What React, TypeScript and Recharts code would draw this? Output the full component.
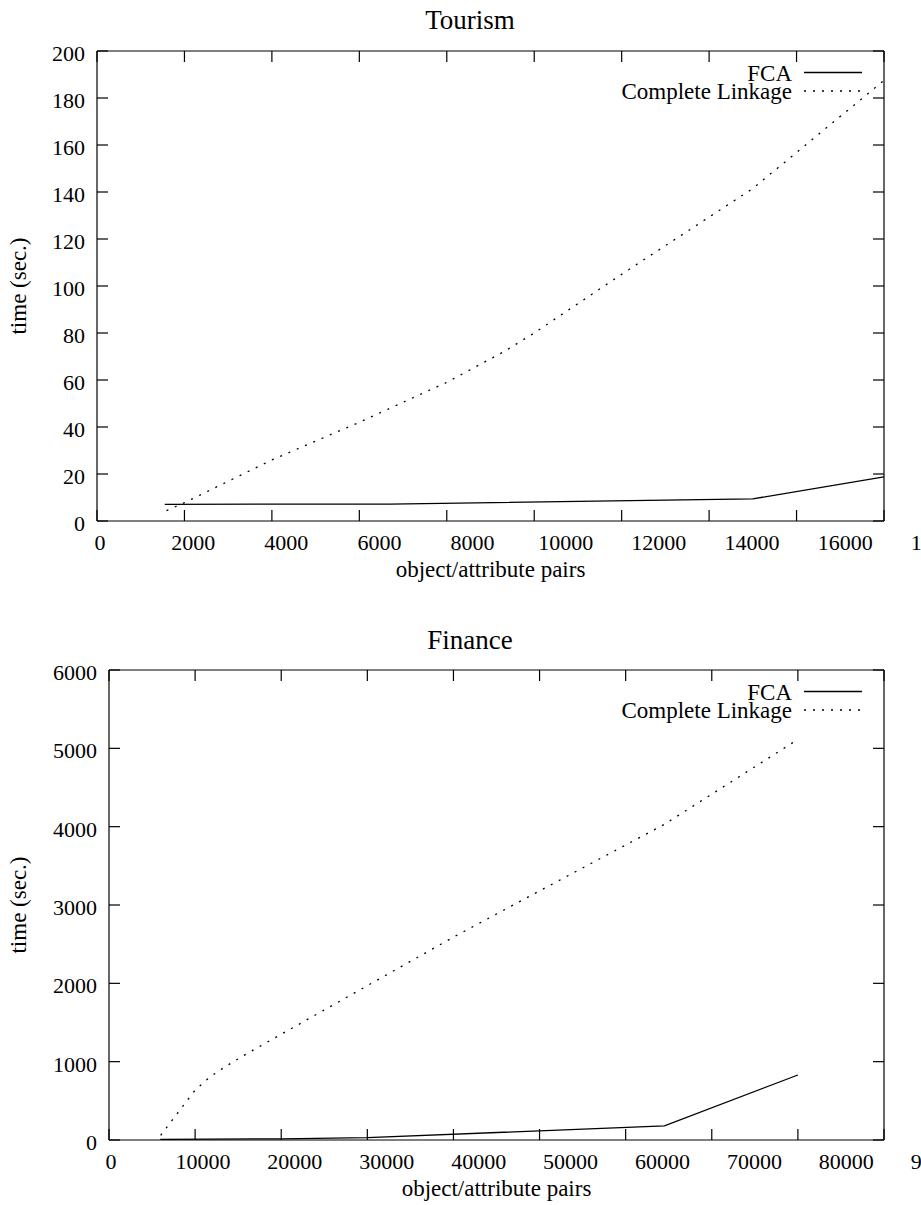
import React from 'react';
import { LineChart, Line, XAxis, YAxis } from 'recharts';

const FONT = '"Liberation Serif", "Times New Roman", Times, serif';

// ---- Data ----
const seriesNames = ['FCA', 'Complete Linkage'];
const xAxisTitle = 'object/attribute pairs';
const yAxisTitle = 'time (sec.)';

const tourismTitle = 'Tourism';
const tourismXTicks = [0, 2000, 4000, 6000, 8000, 10000, 12000, 14000, 16000, 18000];
const tourismYTicks = [0, 20, 40, 60, 80, 100, 120, 140, 160, 180, 200];
const tourismFCA = [
  { x: 1550, y: 7.1 },
  { x: 6700, y: 7.2 },
  { x: 15000, y: 9.4 },
  { x: 18000, y: 18.8 },
];
const tourismCL = [
  { x: 1590, y: 4.4 },
  { x: 2000, y: 7.8 },
  { x: 4000, y: 26 },
  { x: 6000, y: 42 },
  { x: 8000, y: 59 },
  { x: 9300, y: 72 },
  { x: 10000, y: 80 },
  { x: 12000, y: 105 },
  { x: 15000, y: 141.5 },
  { x: 18000, y: 187.5 },
];

const financeTitle = 'Finance';
const financeXTicks = [0, 10000, 20000, 30000, 40000, 50000, 60000, 70000, 80000, 90000];
const financeYTicks = [0, 1000, 2000, 3000, 4000, 5000, 6000];
const financeFCA = [
  { x: 5950, y: 8 },
  { x: 20000, y: 15 },
  { x: 30000, y: 30 },
  { x: 64500, y: 180 },
  { x: 80000, y: 830 },
];
const financeCL = [
  { x: 6000, y: 60 },
  { x: 10000, y: 637 },
  { x: 11600, y: 794 },
  { x: 13400, y: 930 },
  { x: 16100, y: 1108 },
  { x: 20000, y: 1350 },
  { x: 30000, y: 1970 },
  { x: 40000, y: 2590 },
  { x: 50000, y: 3180 },
  { x: 64500, y: 4030 },
  { x: 80000, y: 5114 },
];

// ---- Styling helpers ----
const TICK_LEN = 11;
const TICK_FONT = 22;
const LABEL_FONT = 23;
const AXIS_STROKE = { stroke: '#000', strokeWidth: 1.2 };
const DOTTED = '2 7';

function makeBottomTick(step: number, off0: number, offStep: number) {
  return (props: any) => {
    const { x, y, payload } = props;
    const k = payload.value / step;
    return (
      <g>
        <line x1={x} x2={x} y1={y} y2={y - TICK_LEN} stroke="#000" strokeWidth={1.2} />
        <text x={x + off0 + offStep * k} y={y + 29} textAnchor="middle" fontSize={TICK_FONT} fontFamily={FONT} fill="#000">
          {payload.value}
        </text>
      </g>
    );
  };
}
const TopTick = (props: any) => {
  const { x, y } = props;
  return <line x1={x} x2={x} y1={y} y2={y + TICK_LEN} stroke="#000" strokeWidth={1.2} />;
};
const LeftTick = (props: any) => {
  const { x, y, payload } = props;
  return (
    <g>
      <line x1={x} x2={x + TICK_LEN} y1={y} y2={y} stroke="#000" strokeWidth={1.2} />
      <text x={x - 12} y={y + 10} textAnchor="end" fontSize={TICK_FONT} fontFamily={FONT} fill="#000">
        {payload.value}
      </text>
    </g>
  );
};
const RightTick = (props: any) => {
  const { x, y } = props;
  return <line x1={x} x2={x - TICK_LEN} y1={y} y2={y} stroke="#000" strokeWidth={1.2} />;
};

type Box = { top: number; right: number; bottom: number; left: number };
type PanelProps = {
  height: number;
  plot: Box; // plot box edges (pixels from the chart's edges)
  title: string;
  titleY: number;
  xTicks: number[];
  yTicks: number[];
  fca: { x: number; y: number }[];
  cl: { x: number; y: number }[];
  tickStep: number;
  labelOff0: number;
  labelOffStep: number;
};

const WIDTH = 921;
const AX = 1; // axis band size (needs to be > 0 for recharts to draw it)

function Panel(p: PanelProps) {
  const { height, plot } = p;
  const margin = {
    top: plot.top - AX,
    right: plot.right - AX,
    bottom: plot.bottom - AX,
    left: plot.left - AX,
  };
  const plotTop = plot.top;
  const plotBottom = height - plot.bottom;
  const plotRight = WIDTH - plot.right;
  const plotLeft = plot.left;
  const xDomain = [p.xTicks[0], p.xTicks[p.xTicks.length - 1]];
  const yDomain = [p.yTicks[0], p.yTicks[p.yTicks.length - 1]];
  const BottomTick = makeBottomTick(p.tickStep, p.labelOff0, p.labelOffStep);
  const legendTextX = plotRight - 92;
  const legendLineX1 = plotRight - 80;
  const legendLineX2 = plotRight - 22;
  const row1 = plotTop + 21.5;
  const row2 = plotTop + 40;
  const common = {
    type: 'number' as const,
    interval: 0 as const,
    allowDataOverflow: true,
    tickSize: 0,
    tickMargin: 0,
    tickLine: false,
    axisLine: AXIS_STROKE,
  };
  return (
    <LineChart width={WIDTH} height={height} margin={margin} style={{ fontFamily: FONT }}>
      <XAxis {...common} xAxisId="b" dataKey="x" orientation="bottom" domain={xDomain} ticks={p.xTicks} height={AX} tick={BottomTick} />
      <XAxis {...common} xAxisId="t" dataKey="x" orientation="top" domain={xDomain} ticks={p.xTicks} height={AX} tick={TopTick} />
      <YAxis {...common} yAxisId="l" orientation="left" domain={yDomain} ticks={p.yTicks} width={AX} tick={LeftTick} />
      <YAxis {...common} yAxisId="r" orientation="right" domain={yDomain} ticks={p.yTicks} width={AX} tick={RightTick} />
      <Line
        xAxisId="b"
        yAxisId="l"
        data={p.fca}
        dataKey="y"
        name={seriesNames[0]}
        type="linear"
        stroke="#000"
        strokeWidth={1.3}
        dot={false}
        activeDot={false}
        isAnimationActive={false}
      />
      <Line
        xAxisId="b"
        yAxisId="l"
        data={p.cl}
        dataKey="y"
        name={seriesNames[1]}
        type="linear"
        stroke="#000"
        strokeWidth={1.3}
        strokeDasharray={DOTTED}
        dot={false}
        activeDot={false}
        isAnimationActive={false}
      />
      <text x={470} y={p.titleY} textAnchor="middle" fontSize={27} fontFamily={FONT} fill="#000">
        {p.title}
      </text>
      <text x={(plotLeft + plotRight) / 2} y={plotBottom + 56} textAnchor="middle" fontSize={LABEL_FONT} fontFamily={FONT} fill="#000">
        {xAxisTitle}
      </text>
      <text
        x={26}
        y={(plotTop + plotBottom) / 2}
        textAnchor="middle"
        fontSize={LABEL_FONT}
        fontFamily={FONT}
        fill="#000"
        transform={`rotate(-90 26 ${(plotTop + plotBottom) / 2})`}
      >
        {yAxisTitle}
      </text>
      <text x={legendTextX} y={row1 + 8} textAnchor="end" fontSize={LABEL_FONT} fontFamily={FONT} fill="#000">
        {seriesNames[0]}
      </text>
      <line x1={legendLineX1} x2={legendLineX2} y1={row1} y2={row1} stroke="#000" strokeWidth={1.3} />
      <text x={legendTextX} y={row2 + 8} textAnchor="end" fontSize={LABEL_FONT} fontFamily={FONT} fill="#000">
        {seriesNames[1]}
      </text>
      <line x1={legendLineX1} x2={legendLineX2} y1={row2} y2={row2} stroke="#000" strokeWidth={1.3} strokeDasharray={DOTTED} />
    </LineChart>
  );
}

export default function App() {
  return (
    <div style={{ position: 'absolute', left: 0, top: 0, width: WIDTH, height: 1205, background: '#fff', fontFamily: FONT }}>
      <div style={{ position: 'absolute', left: 0, top: 0 }}>
        <Panel
          height={600}
          plot={{ top: 51, right: 37, bottom: 79, left: 97 }}
          title={tourismTitle}
          titleY={29}
          xTicks={tourismXTicks}
          yTicks={tourismYTicks}
          fca={tourismFCA}
          cl={tourismCL}
          tickStep={2000}
          labelOff0={3}
          labelOffStep={5.7}
        />
      </div>
      <div style={{ position: 'absolute', left: 0, top: 600 }}>
        <Panel
          height={605}
          plot={{ top: 70, right: 37, bottom: 65, left: 109 }}
          title={financeTitle}
          titleY={49}
          xTicks={financeXTicks}
          yTicks={financeYTicks}
          fca={financeFCA}
          cl={financeCL}
          tickStep={10000}
          labelOff0={2}
          labelOffStep={5.8}
        />
      </div>
    </div>
  );
}
